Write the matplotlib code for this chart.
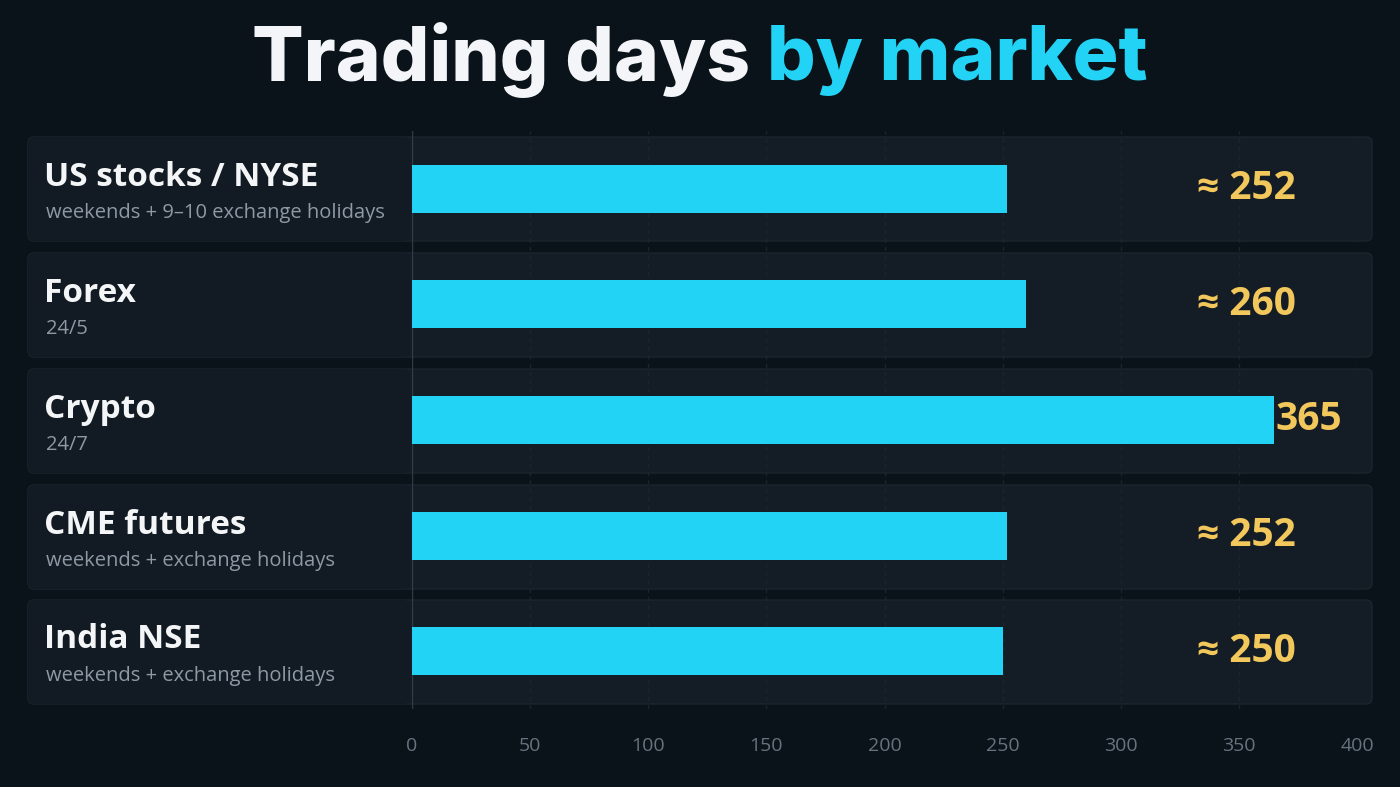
import matplotlib
matplotlib.use('Agg')
import matplotlib.pyplot as plt
from matplotlib.patches import FancyBboxPatch

markets = ['US stocks / NYSE', 'Forex', 'Crypto', 'CME futures', 'India NSE']
notes = ['weekends + 9\u201310 exchange holidays', '24/5', '24/7',
         'weekends + exchange holidays', 'weekends + exchange holidays']
days = [252, 260, 365, 252, 250]
value_labels = ['\u2248 252', '\u2248 260', '365', '\u2248 252', '\u2248 250']
xticks = [0, 50, 100, 150, 200, 250, 300, 350, 400]

BG = '#0b131a'
PANEL = '#141d25'
CYAN = '#22d3f5'
GOLD = '#f2c75c'
W, H = 1400, 787

fig = plt.figure(figsize=(14, 7.87), dpi=100, facecolor=BG)
plt.rcParams['font.family'] = ['Open Sans', 'DejaVu Sans']

# row panels in pixel space
bg = fig.add_axes([0, 0, 1, 1])
bg.set_xlim(0, W); bg.set_ylim(H, 0); bg.axis('off')
row_top = [137, 253, 369, 485, 600]
for t in row_top:
    bg.add_patch(FancyBboxPatch((28, t), 1344, 104, boxstyle='round,pad=0,rounding_size=6',
                                fc=PANEL, ec='#1b252e', lw=1))
    bg.add_patch(FancyBboxPatch((28, t), 382, 104, boxstyle='round,pad=0,rounding_size=6',
                                fc='#121b23', ec='none'))
for t, name, note in zip(row_top, markets, notes):
    bg.text(44, t + 40, name, color='#f3f5f7', fontsize=24, fontweight='bold', va='center')
    bg.text(46, t + 76, note, color='#8d99a4', fontsize=14.5, va='center')

# title, two colours
t1 = bg.text(0, 60, 'Trading days ', color='#f3f5f8', fontsize=55, fontweight='heavy',
             va='center', family=['Inter', 'DejaVu Sans'])
t2 = bg.text(0, 60, 'by market', color=CYAN, fontsize=55, fontweight='heavy',
             va='center', family=['Inter', 'DejaVu Sans'])
r = fig.canvas.get_renderer()
w1 = t1.get_window_extent(r).width
w2 = t2.get_window_extent(r).width
x0 = (W - w1 - w2) / 2
t1.set_x(x0); t2.set_x(x0 + w1)

# data axes
ax = fig.add_axes([412 / W, 1 - 709 / H, 945 / W, 578 / H])
ax.patch.set_alpha(0)
y = list(range(len(markets)))
ax.barh(y, days, height=0.415, color=CYAN, zorder=3)
ax.set_xlim(0, 400)
ax.set_ylim(4.5, -0.5)
for i, (v, lab) in enumerate(zip(days, value_labels)):
    if lab.startswith('\u2248'):
        ax.text(374, i, lab, color=GOLD, fontsize=28, fontweight='bold', ha='right', va='center')
    else:
        ax.text(v + 0.5, i, lab, color=GOLD, fontsize=28, fontweight='bold', ha='left', va='center')
ax.set_xticks(xticks)
for xt in xticks[1:]:
    ax.axvline(xt, color='#1b252e', lw=1, ls=(0, (3, 3)), zorder=1)
ax.axvline(0, color='#2f3c47', lw=1, zorder=2)
ax.tick_params(axis='x', colors='#66737e', labelsize=14, length=0, pad=20)
ax.set_yticks([])
for s in ax.spines.values():
    s.set_visible(False)

fig.savefig('out.png', dpi=100, facecolor=BG)
